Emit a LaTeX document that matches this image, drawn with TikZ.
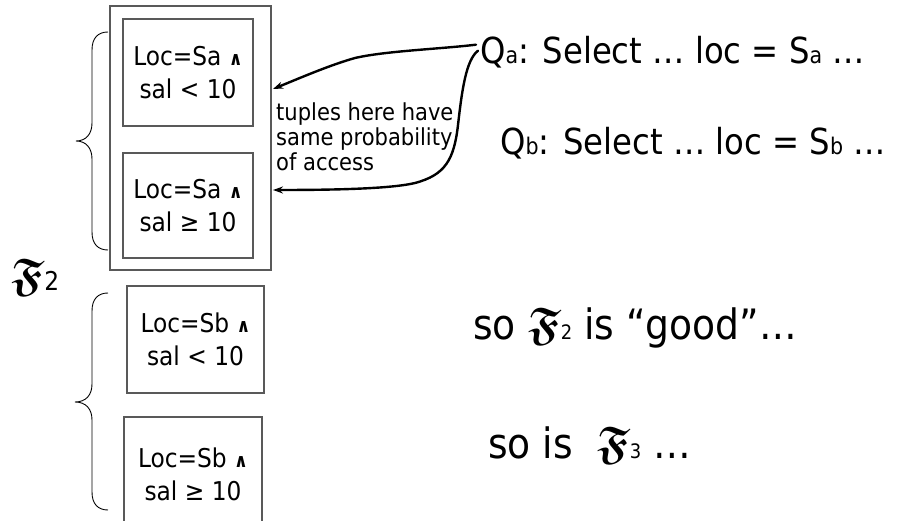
\documentclass[tikz,border=0pt]{standalone}
\usepackage{amsmath,amssymb}
\usepackage{fontspec}
\setmainfont{DejaVu Sans Condensed}
\usetikzlibrary{arrows.meta}

% bold fraktur letter used for the fragmentations
\newcommand{\fragF}{\ensuremath{\boldsymbol{\mathfrak{F}}}}
\newcommand{\andsym}{{\fontsize{19}{19}\selectfont\bfseries ∧}}
\newcommand{\subsz}[1]{{\fontsize{23}{23}\selectfont #1}}

\tikzset{
  part/.style={draw=black!65, line width=1.1bp, inner sep=0pt, align=center,
    font=\fontsize{26}{33}\selectfont},
  frame/.style={draw=black!65, line width=1.1bp, inner sep=0pt},
  brace/.style={draw=black, line width=0.9bp},
  hand/.style={draw=black, line width=2.4bp, line cap=round,
    -{Stealth[length=10bp,width=7bp]}},
  query/.style={inner sep=0pt, anchor=base west, font=\fontsize{36}{40}\selectfont},
  remark/.style={inner sep=0pt, anchor=base west, font=\fontsize{42}{46}\selectfont},
  note/.style={inner sep=0pt, anchor=north west, align=left,
    font=\fontsize{23.5}{25}\selectfont},
}

\begin{document}
\begin{tikzpicture}[x=1bp,y=-1bp]
\clip (0,0) rectangle (909,521);
\fill[white] (0,0) rectangle (909,521);

% fragment boxes
\node[frame, minimum width=161bp, minimum height=264bp] (outer) at (190.5,138) {};
\node[part, minimum width=130bp, minimum height=107bp] (sa1) at (188,72.5)
  {Loc=Sa \andsym\\ sal < 10};
\node[part, minimum width=130bp, minimum height=105bp] (sa2) at (188,205.5)
  {Loc=Sa \andsym\\ sal ≥ 10};
\node[part, minimum width=137bp, minimum height=107bp] (sb1) at (195.5,339.5)
  {Loc=Sb \andsym\\ sal < 10};
\node[part, minimum width=138bp, minimum height=123bp] (sb2) at (193,478.5) {};
\node[font=\fontsize{26}{33}\selectfont, align=center, inner sep=0pt] (sb2t) at (193,474)
  {Loc=Sb \andsym\\ sal ≥ 10};

% braces grouping the fragments
\draw[brace] (108,32) .. controls (98,32) and (92,38) .. (92,50) -- (92,123)
  .. controls (92,134) and (86,141) .. (76,141)
  .. controls (86,141) and (92,148) .. (92,159) -- (92,232)
  .. controls (92,244) and (98,250) .. (108,250);
\draw[brace] (108,293) .. controls (98,293) and (92,299) .. (92,311) -- (92,384)
  .. controls (92,395) and (86,402) .. (75,402)
  .. controls (86,402) and (92,409) .. (92,420) -- (92,492)
  .. controls (92,504) and (98,510) .. (108,510);

% fragmentation label
\node[inner sep=0pt, anchor=base west] (f2) at (11,291)
  {{\fontsize{46}{46}\selectfont\fragF}{\fontsize{26}{26}\selectfont 2}};

% queries
\node[query] (qa) at (480,64)
  {Q\subsz{a}: Select … loc = S\subsz{a} …};
\node[query] (qb) at (500,155)
  {Q\subsz{b}: Select … loc = S\subsz{b} …};

% annotation
\node[note] (nt) at (276,103) {tuples here have\\same probability\\of access};

% remarks
\node[remark] (r1) at (473,340)
  {so {\fontsize{46}{46}\selectfont\fragF}{\fontsize{20}{20}\selectfont 2} is “good”…};
\node[remark] (r2) at (488,458)
  {so is\ \ {\fontsize{46}{46}\selectfont\fragF}{\fontsize{20}{20}\selectfont 3} …};

% arrows from query Qa to the fragments
\coordinate (t1) at (273,89);
\coordinate (t2) at (273,190);
\draw[hand] ([shift={(-4,-8)}]qa.west)
  .. controls (440,49) and (385,51) .. (355,58)
  .. controls (330,65) and (300,78) .. (t1);
\draw[hand] ([shift={(-2,-2)}]qa.west)
  .. controls (466,60) and (462,90) .. (458,125)
  .. controls (454,160) and (445,175) .. (415,183)
  .. controls (390,189) and (330,190) .. (t2);
\end{tikzpicture}
\end{document}
